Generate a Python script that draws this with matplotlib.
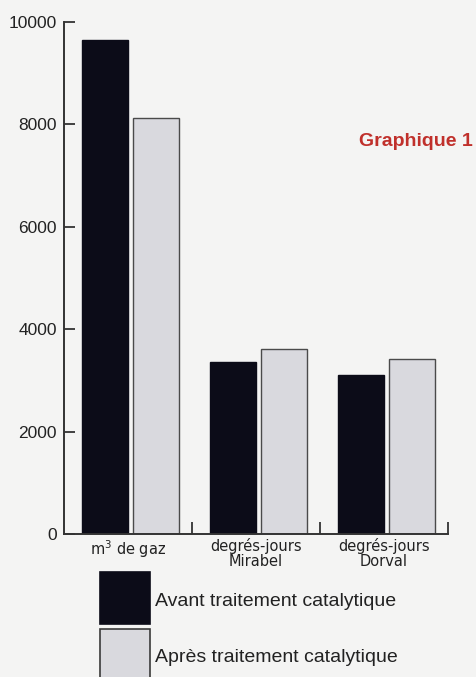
import matplotlib
matplotlib.use("Agg")
import matplotlib.pyplot as plt
from matplotlib.patches import Rectangle
import numpy as np

categories = ["m$^3$ de gaz", "degrés-jours\nMirabel", "degrés-jours\nDorval"]
avant = [9650, 3360, 3100]
apres = [8130, 3610, 3420]
yticks = [0, 2000, 4000, 6000, 8000, 10000]
series_labels = ["Avant traitement catalytique", "Après traitement catalytique"]

plt.rcParams['font.family'] = ['Liberation Sans', 'DejaVu Sans']
bg = "#f4f4f3"
black_c = "#0c0c18"
gray_c = "#d9d9de"
fig = plt.figure(figsize=(4.76, 6.77), dpi=100, facecolor=bg)
W, H = 476, 677
ax = fig.add_axes([64 / W, (H - 534) / H, (448 - 64) / W, (534 - 22) / H])
ax.set_facecolor(bg)

x = np.arange(len(categories))
ax.bar(x + 0.32, avant, width=0.36, color=black_c, edgecolor=black_c, linewidth=1.0)
ax.bar(x + 0.72, apres, width=0.36, color=gray_c, edgecolor="#4a4a4a", linewidth=1.0)

ax.set_xlim(0, 3)
ax.set_ylim(0, 10000)
ax.set_yticks(yticks)
ax.set_yticklabels([str(v) for v in yticks], fontsize=12.5, color="#222222")
ax.tick_params(axis='y', direction='in', length=8, width=1.3, color="#333333", pad=5)

ax.set_xticks(x + 0.5)
ax.set_xticklabels(categories, fontsize=10.5, color="#222222", linespacing=0.95,
                   family=['DejaVu Sans'])
ax.tick_params(axis='x', length=0, pad=3)
ax.set_xticks([1, 2, 3], minor=True)
ax.tick_params(axis='x', which='minor', direction='in', length=9, width=1.3, color="#333333")

for s in ["top", "right"]:
    ax.spines[s].set_visible(False)
for s in ["left", "bottom"]:
    ax.spines[s].set_linewidth(1.4)
    ax.spines[s].set_color("#333333")

fig.text(359 / W, 1 - 141 / H, "Graphique 1", color="#c0302b", fontsize=14,
         fontweight="bold", va="center", ha="left")

# legend keys and labels
keys = [(572, 624, black_c, black_c), (629, 681, gray_c, "#3a3a3a")]
for (y0, y1, fc, ec), lab in zip(keys, series_labels):
    fig.patches.append(Rectangle((100 / W, 1 - y1 / H), 50 / W, (y1 - y0) / H,
                                 transform=fig.transFigure, facecolor=fc, edgecolor=ec,
                                 linewidth=1.2))
    fig.text(155 / W, 1 - ((y0 + y1) / 2 + 3) / H, lab, fontsize=14, color="#222222",
             va="center", ha="left")

fig.savefig("out.png", dpi=100, facecolor=bg)
